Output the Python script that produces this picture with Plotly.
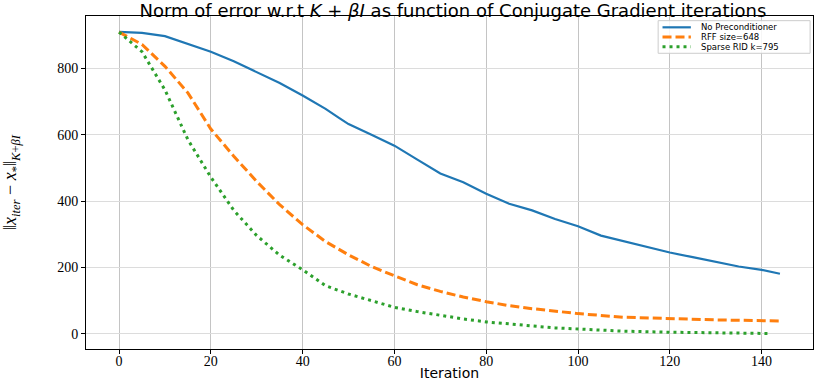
import plotly.graph_objects as go

# values
iters_blue = [0, 5, 10, 15, 20, 25, 30, 35, 40, 45, 48, 50, 55, 60, 65, 70, 75, 80, 85, 90, 95,
              98, 100, 105, 110, 115, 120, 125, 130, 135, 140, 144]
err_no_precond = [910, 907, 897, 874, 850, 821, 788, 756, 718, 678, 650, 632, 600, 567, 525, 483,
                  457, 422, 392, 372, 346, 334, 324, 296, 279, 263, 245, 231, 218, 203, 193, 181]

iters_rff = [0, 5, 10, 15, 20, 25, 30, 35, 40, 45, 50, 55, 60, 65, 70, 75, 80, 85, 90, 95, 100,
             110, 120, 130, 144]
err_rff = [909, 872, 806, 726, 617, 535, 459, 389, 329, 278, 238, 203, 175, 148, 128, 111, 97, 85,
           76, 68, 61, 50, 45, 42, 39]

iters_rid = [0, 5, 10, 15, 20, 25, 30, 35, 40, 45, 50, 55, 60, 65, 70, 75, 80, 85, 90, 95, 100,
             110, 120, 130, 142]
err_rid = [909, 850, 735, 585, 472, 372, 296, 237, 193, 145, 120, 100, 80, 67, 55, 45, 36, 29, 24,
           18, 14, 8, 5, 3, 1]

series_names = ["No Preconditioner", "RFF size=648", "Sparse RID k=795"]
series_colors = ["#1f77b4", "#ff7f0e", "#2ca02c"]
series_dash = ["solid", "9px,4px", "3px,4px"]
series_width = [2.2, 3, 3]

x_ticks = [0, 20, 40, 60, 80, 100, 120, 140]
y_ticks = [0, 200, 400, 600, 800]

sans = "DejaVu Sans"
serif = "Liberation Serif"

fig = go.Figure()
for xs, ys, name, color, dash, w in zip(
    [iters_blue, iters_rff, iters_rid],
    [err_no_precond, err_rff, err_rid],
    series_names, series_colors, series_dash, series_width,
):
    fig.add_trace(go.Scatter(x=xs, y=ys, mode="lines", name=name,
                             line=dict(color=color, width=w, dash=dash)))

# compact matplotlib-style legend (plotly's own legend rows are too tall)
fig.add_shape(type="rect", xref="paper", yref="paper", x0=0.787, x1=0.996, y0=0.888, y1=0.986,
              line=dict(color="#cccccc", width=1), fillcolor="rgba(255,255,255,0.85)")
row_y = [0.966, 0.937, 0.908]
for ry, name, color, dash, w in zip(row_y, series_names, series_colors, series_dash, series_width):
    fig.add_shape(type="line", xref="paper", yref="paper", x0=0.793, x1=0.832, y0=ry, y1=ry,
                  line=dict(color=color, width=w, dash=dash))
    fig.add_annotation(text=name, xref="paper", yref="paper", x=0.845, y=ry, xanchor="left",
                       yanchor="middle", showarrow=False, borderpad=0,
                       font=dict(family=sans, size=8.5, color="black"))

fig.update_layout(
    width=831,
    height=382,
    margin=dict(l=86, r=18, t=16, b=33),
    plot_bgcolor="white",
    paper_bgcolor="white",
    showlegend=False,
    title=dict(
        text="Norm of error w.r.t <i>K</i> + <i>βI</i> as function of Conjugate Gradient iterations",
        x=0.545, xanchor="center", y=0.972, yanchor="middle",
        font=dict(family=sans, size=18, color="black"),
    ),
)

fig.update_xaxes(
    range=[-7.2, 151.2], tickvals=x_ticks, ticks="outside", ticklen=4, tickcolor="black",
    showgrid=True, gridcolor="#c4c4c4", gridwidth=1, zeroline=False,
    showline=True, linecolor="black", linewidth=1, mirror=True, automargin=False,
    tickfont=dict(family=serif, size=14, color="black"), ticklabelstandoff=-5,
    title=dict(text="Iteration", font=dict(family=sans, size=14, color="black"), standoff=0),
)
fig.update_yaxes(
    range=[-45.6, 957.6], tickvals=y_ticks, ticks="outside", ticklen=4, tickcolor="black",
    showgrid=True, gridcolor="#dcdcdc", gridwidth=1, zeroline=False,
    showline=True, linecolor="black", linewidth=1, mirror=True, automargin=False,
    tickfont=dict(family=serif, size=14, color="black"),
    title=dict(
        text="‖<i>x<sub>iter</sub></i> − <i>x</i><sub>*</sub>‖<sub><i>K</i>+<i>βI</i></sub>",
        font=dict(family=serif, size=18, color="black"), standoff=40,
    ),
)

# the page body has a default 8px margin; drop it so the figure fills the window
fig.write_html("out.html", config={"displayModeBar": False},
               post_script="document.body.style.margin='0';")
